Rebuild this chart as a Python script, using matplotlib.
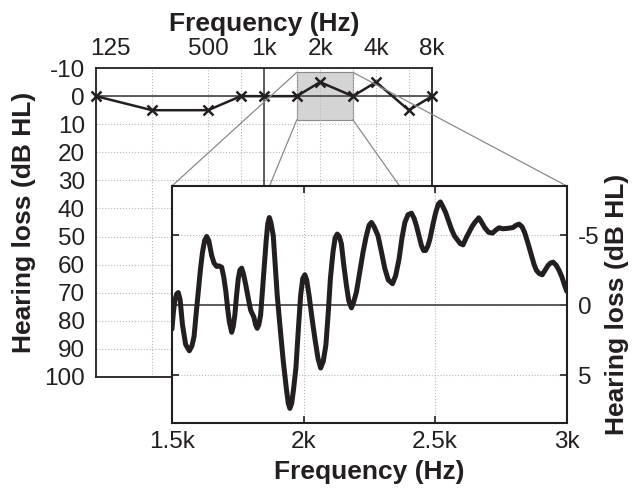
import numpy as np
import matplotlib
matplotlib.use("Agg")
import matplotlib.pyplot as plt
from matplotlib.patches import Rectangle, ConnectionPatch
from matplotlib.transforms import ScaledTranslation

plt.rcParams['font.family'] = ['Liberation Sans', 'DejaVu Sans']
plt.rcParams['axes.unicode_minus'] = False

INK = '#231f20'

# audiogram thresholds
aud_freqs = [125, 250, 500, 750, 1000, 1500, 2000, 3000, 4000, 6000, 8000]
aud_hl = [0, 5, 5, 0, 0, 0, -5, 0, -5, 5, 0]
aud_ticks = [125, 250, 500, 750, 1000, 1500, 2000, 3000, 4000, 6000, 8000]
aud_ticklabels = ['125', '', '500', '', '1k', '', '2k', '', '4k', '', '8k']
hl_ticks = list(range(-10, 101, 10))

# fine-resolution hearing loss between 1.5k and 3k
fine_freqs = [1500, 1506, 1511, 1518, 1524, 1531, 1540, 1552, 1566, 1576, 1584, 1592,
              1600, 1608, 1616, 1624, 1632, 1640, 1651, 1660, 1670, 1680, 1689, 1697,
              1705, 1712, 1718, 1727, 1733, 1739, 1745, 1752, 1758, 1765, 1772, 1781,
              1790, 1799, 1805, 1811, 1818, 1824, 1830, 1837, 1843, 1850, 1858, 1864,
              1870, 1876, 1885, 1892, 1900, 1912, 1923, 1935, 1942, 1948, 1955, 1962,
              1971, 1980, 1989, 1997, 2005, 2012, 2021, 2032, 2043, 2055, 2065, 2075,
              2085, 2094, 2102, 2112, 2120, 2128, 2136, 2144, 2152, 2163, 2172, 2182,
              2190, 2201, 2213, 2226, 2238, 2249, 2258, 2268, 2283, 2296, 2309, 2322,
              2338, 2350, 2363, 2374, 2385, 2397, 2410, 2420, 2429, 2438, 2448, 2456,
              2464, 2472, 2480, 2491, 2502, 2512, 2520, 2530, 2540, 2551, 2562, 2573,
              2584, 2595, 2606, 2618, 2629, 2640, 2651, 2666, 2677, 2688, 2703, 2718,
              2730, 2743, 2757, 2771, 2784, 2796, 2808, 2819, 2830, 2840, 2853, 2866,
              2876, 2885, 2896, 2907, 2918, 2929, 2938, 2948, 2960, 2971, 2982, 2992,
              3000]
fine_hl = [1.7, 0.4, -0.35, -0.8, -0.9, -0.4, 1.4, 2.8, 3.25, 2.9, 2.24, 0.6,
           -0.94, -2.5, -3.77, -4.6, -4.9, -4.6, -3.54, -3.0, -2.76, -2.8, -2.7, -2.0,
           -0.94, 0.3, 1.18, 1.93, 1.5, 0.7, -0.6, -1.89, -2.5, -2.64, -2.2, -1.4,
           -0.5, 0.35, 0.6, 0.83, 1.4, 1.65, 1.4, 0.7, -0.8, -2.6, -4.6, -5.8,
           -6.25, -5.9, -4.95, -3.0, -0.7, 1.8, 4.0, 6.0, 7.0, 7.36, 7.0, 6.0,
           4.48, 1.8, -0.7, -1.9, -2.17, -1.8, -0.7, 0.9, 2.36, 3.8, 4.48, 4.0,
           2.83, 0.5, -1.89, -3.8, -4.8, -5.07, -4.9, -4.36, -3.0, -1.4, -0.3, 0.19,
           -0.2, -0.94, -2.3, -3.77, -4.9, -5.7, -5.9, -5.6, -4.95, -3.8, -2.6, -1.8,
           -1.53, -2.1, -3.3, -4.8, -5.9, -6.45, -6.56, -6.2, -5.66, -5.0, -4.25, -3.9,
           -3.9, -4.2, -4.7, -5.7, -6.6, -7.2, -7.36, -7.0, -6.6, -6.0, -5.42, -4.95,
           -4.67, -4.4, -4.3, -4.8, -5.2, -5.6, -5.9, -6.23, -5.9, -5.54, -5.2, -5.14,
           -5.35, -5.52, -5.45, -5.47, -5.5, -5.54, -5.7, -5.78, -5.6, -5.19, -4.4, -3.54,
           -2.9, -2.48, -2.25, -2.17, -2.5, -2.83, -3.0, -3.07, -2.85, -2.48, -2.0, -1.42,
           -1.0]
zoom_ticks = [1500, 2000, 2500, 3000]
zoom_ticklabels = ['1.5k', '2k', '2.5k', '3k']
zoom_hl_ticks = [-5, 0, 5]
zoom_lo, zoom_hi = -8.5, 8.4

fs = 17.5     # tick labels
fs_lab = 19   # axis titles

fig = plt.figure(figsize=(6.44, 4.88), dpi=100)
ax = fig.add_axes([0.149, 0.2275, 0.522, 0.633], zorder=1)
axins = fig.add_axes([0.267, 0.1332, 0.613, 0.4857], zorder=3)

# --- audiogram ---
ax.set_xscale('log')
ax.set_xlim(125, 8000)
ax.set_ylim(100, -10)
ax.xaxis.tick_top()
ax.xaxis.set_label_position('top')
ax.set_xticks(aud_ticks)
ax.set_xticks([], minor=True)
ax.set_xticklabels(aud_ticklabels)
ax.set_yticks(hl_ticks)
ax.tick_params(length=0, labelsize=fs, colors=INK, pad=6)
ax.tick_params(axis='y', pad=8)
ax.grid(True, linestyle=':', color='#b8b8b8', linewidth=0.8)
lbl = ax.get_xticklabels()[0]
lbl.set_horizontalalignment('left')
lbl.set_transform(lbl.get_transform() + ScaledTranslation(-0.06, 0, fig.dpi_scale_trans))
ax.axhline(0, color='#505050', linewidth=1.3, zorder=2)
ax.axvline(1000, color='#505050', linewidth=1.3, zorder=2)
ax.add_patch(Rectangle((zoom_ticks[0], zoom_lo), zoom_ticks[-1] - zoom_ticks[0],
                       zoom_hi - zoom_lo, facecolor='#d4d4d4', edgecolor='#8a8a8a',
                       linewidth=0.8, zorder=1.5))
ax.plot(aud_freqs, aud_hl, color=INK, linewidth=1.8, marker='x', markersize=7,
        markeredgewidth=1.8, clip_on=False, zorder=4)
ax.set_xlabel('Frequency (Hz)', fontsize=fs_lab, fontweight='bold', color=INK, labelpad=5)
ax.set_ylabel('Hearing loss (dB HL)', fontsize=fs_lab, fontweight='bold', color=INK,
              labelpad=6)
for s in ax.spines.values():
    s.set_color(INK)
    s.set_linewidth(1.3)

# --- zoomed region ---
axins.plot(fine_freqs, fine_hl, color=INK, linewidth=3.6, solid_joinstyle='round',
           solid_capstyle='round', zorder=4)
axins.set_xlim(zoom_ticks[0], zoom_ticks[-1])
axins.set_ylim(zoom_hi, zoom_lo)
axins.set_xticks(zoom_ticks)
axins.set_xticklabels(zoom_ticklabels)
axins.set_yticks(zoom_hl_ticks)
axins.yaxis.tick_right()
axins.yaxis.set_label_position('right')
axins.tick_params(direction='in', length=5, width=1.2, labelsize=fs, colors=INK,
                  top=True, left=True, right=True, bottom=True)
axins.tick_params(axis='y', pad=8)
axins.tick_params(axis='x', pad=6)
axins.grid(True, linestyle=':', color='#b8b8b8', linewidth=0.8)
axins.axhline(0, color='#505050', linewidth=1.3, zorder=2)
axins.set_xlabel('Frequency (Hz)', fontsize=fs_lab, fontweight='bold', color=INK,
                 labelpad=5)
axins.set_ylabel('Hearing loss (dB HL)', fontsize=fs_lab, fontweight='bold', color=INK,
                 labelpad=4)
for s in axins.spines.values():
    s.set_color(INK)
    s.set_linewidth(1.5)

# lines from the shaded box corners to the zoomed axes
corners = [((zoom_ticks[0], zoom_lo), (0, 1)), ((zoom_ticks[-1], zoom_lo), (1, 1)),
           ((zoom_ticks[0], zoom_hi), (0, 0)), ((zoom_ticks[-1], zoom_hi), (1, 0))]
for pa, pb in corners:
    con = ConnectionPatch(xyA=pa, coordsA=ax.transData, xyB=pb, coordsB=axins.transAxes,
                          color='#8a8a8a', linewidth=0.9, zorder=2)
    fig.add_artist(con)

fig.savefig('out.png', dpi=100)
